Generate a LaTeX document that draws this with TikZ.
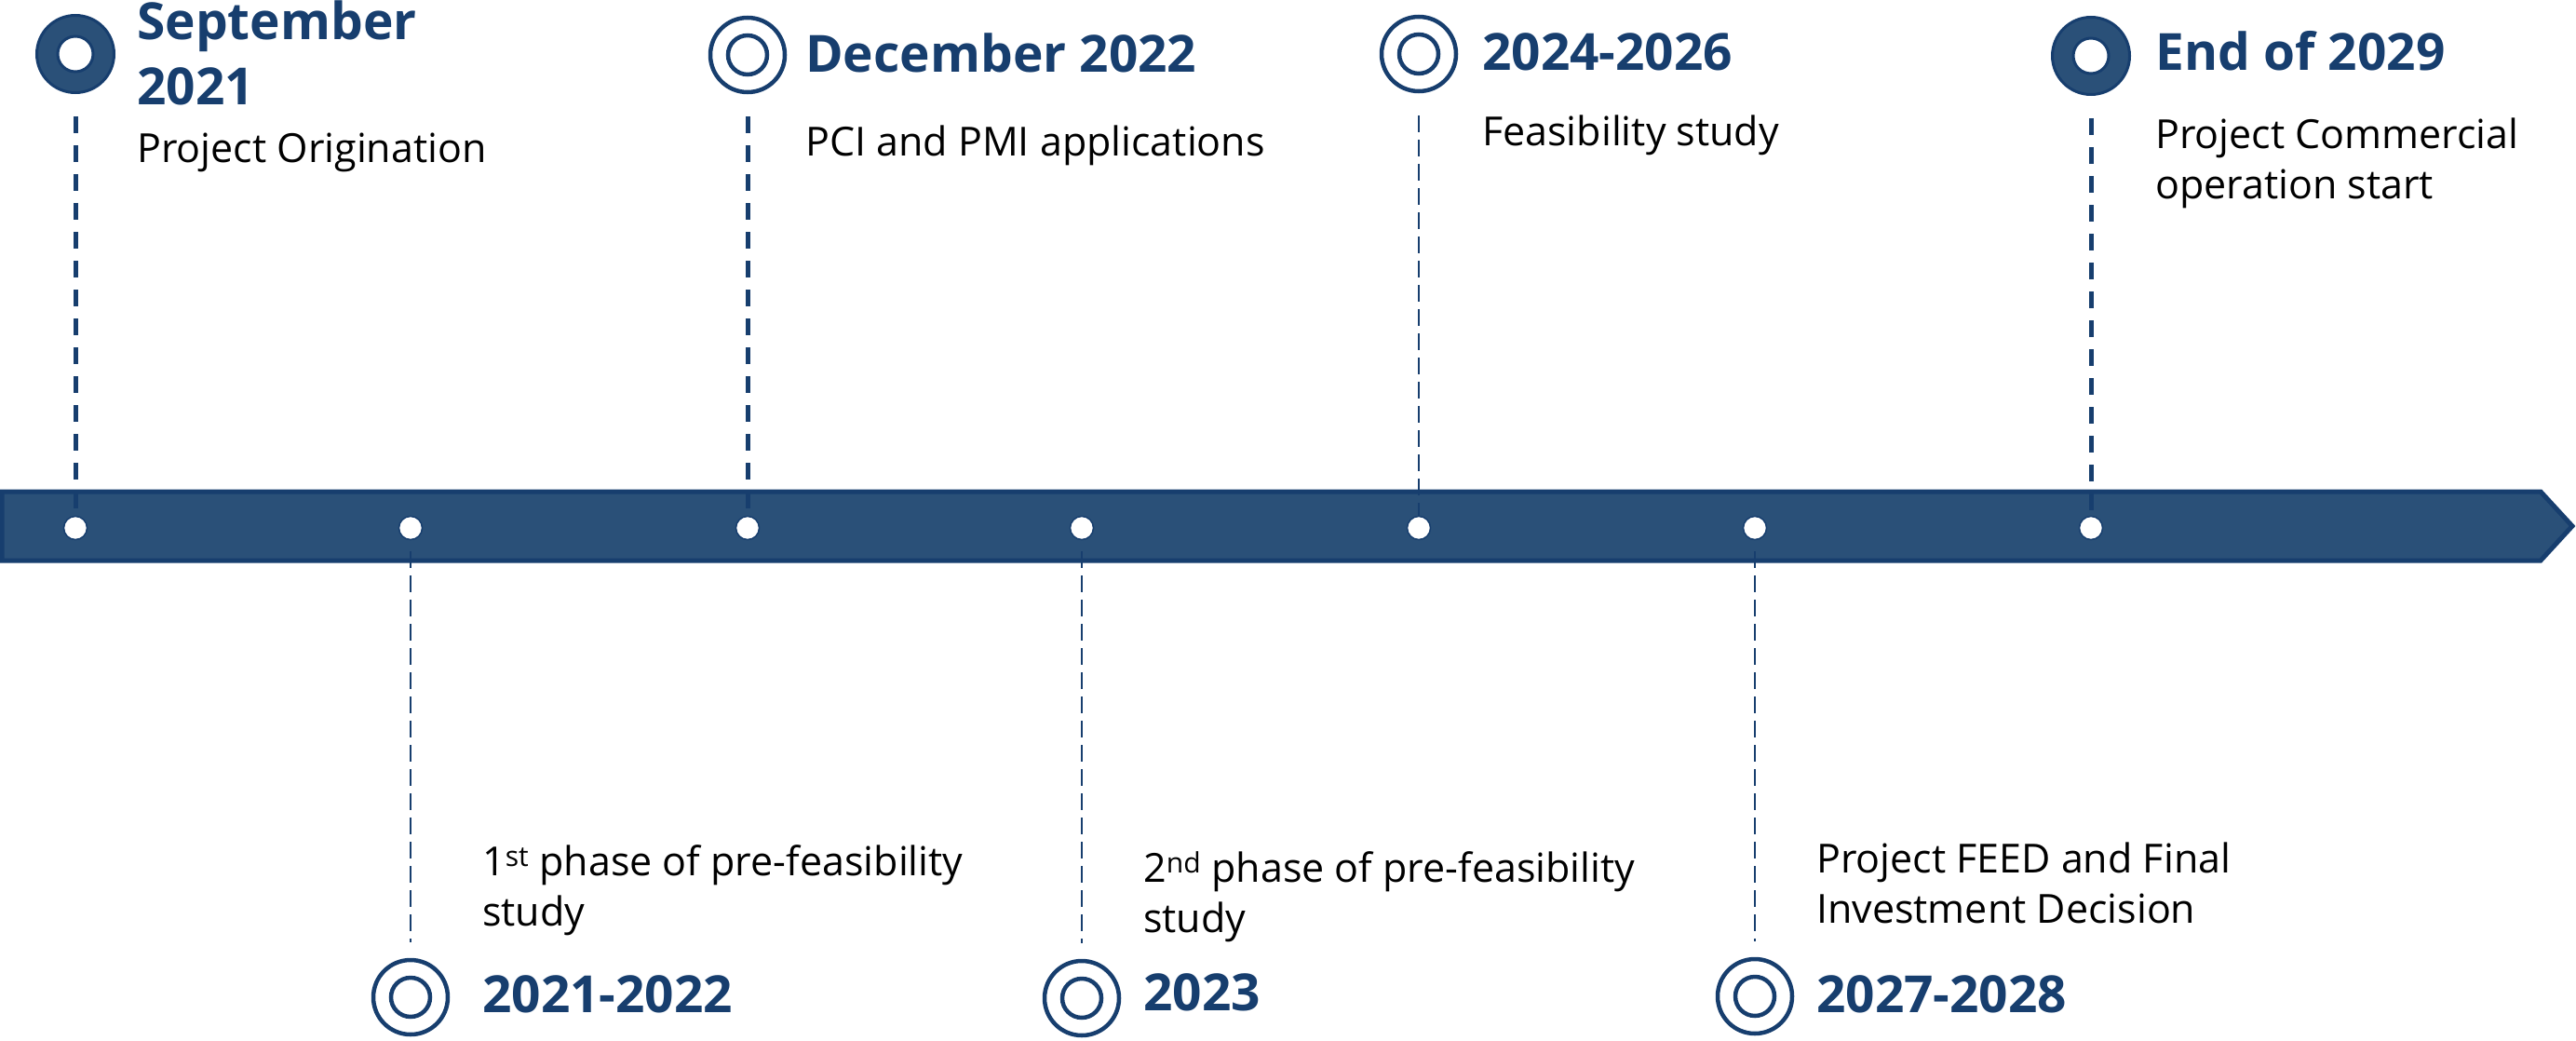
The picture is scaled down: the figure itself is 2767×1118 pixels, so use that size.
\documentclass[tikz,border=0pt]{standalone}
\usepackage{fontspec}
\setmainfont{Open Sans}
\definecolor{barfill}{RGB}{42,80,120}
\definecolor{navy}{RGB}{23,62,110}
\newcommand\tlfont{\bfseries\fontsize{55}{70}\selectfont}
\newcommand\bdfont{\fontsize{43}{54}\selectfont}
\newcommand\twolines[2]{\begin{tabular}[t]{@{}l@{}}#1\\#2\end{tabular}}
\begin{document}
\begin{tikzpicture}[x=1pt,y=-1pt,
  dotmark/.style={circle, fill=white, draw=navy, line width=1.5pt, minimum size=25pt, inner sep=0pt},
  solidring/.style={circle, fill=barfill, draw=navy, line width=3pt, minimum size=83pt, inner sep=0pt},
  openring/.style={circle, draw=navy, line width=4.5pt, minimum size=80pt, inner sep=0pt},
  titletext/.style={anchor=base west, inner sep=0pt, text=navy, font=\tlfont},
  bodytext/.style={anchor=base west, inner sep=0pt, text=black, font=\bdfont},
  thickdash/.style={draw=navy, line width=5pt, dash pattern=on 18pt off 13pt},
  thindash/.style={draw=navy, line width=2.5pt, dash pattern=on 18pt off 8pt},
]
\useasboundingbox (0,0) rectangle (2767,1118);

% timeline bar
\draw[fill=barfill, draw=navy, line width=5pt, line join=miter]
  (2,528) -- (2729,528) -- (2763,565) -- (2729,602) -- (2,602) -- cycle;

% dots on the bar
\foreach \i/\x in {1/81,2/441,3/803,4/1162,5/1524,6/1885,7/2246}
  \node[dotmark] (d\i) at (\x,567) {};

% markers
\node[solidring] (c1) at (81,58) {};
\fill[white, draw=navy, line width=3pt] (c1.center) circle (19);
\node[solidring] (c7) at (2246,60) {};
\fill[white, draw=navy, line width=3pt] (c7.center) circle (19);
\foreach \n/\x/\y in {c3/803/59, c5/1524/58, c2/441/1071, c4/1162/1072, c6/1885/1070}{
  \node[openring] (\n) at (\x,\y) {};
  \draw[navy, line width=4.5pt] (\n.center) circle (21);
}

% connectors
\draw[thickdash, shorten <=24pt] (c1.south) -- (d1.north);
\draw[thickdash, shorten <=24pt] (c3.south) -- (d3.north);
\draw[thindash, shorten <=24pt] (c5.south) -- (d5.north);
\draw[thickdash, shorten <=24pt] (c7.south) -- (d7.north);
\draw[thindash, shorten <=12pt, shorten >=17pt] (d2.south) -- (c2.north);
\draw[thindash, shorten <=12pt, shorten >=17pt] (d4.south) -- (c4.north);
\draw[thindash, shorten <=12pt, shorten >=17pt] (d6.south) -- (c6.north);

% top texts
\node[titletext] (t1) at (147,43) {\twolines{September}{2021}};
\node[bodytext] (b1) at (147,175) {Project Origination};
\node[titletext] (t3) at (865,78) {December 2022};
\node[bodytext] (b3) at (865,168) {PCI and PMI applications};
\node[titletext] (t5) at (1592,76) {2024-2026};
\node[bodytext] (b5) at (1592,157) {Feasibility study};
\node[titletext] (t7) at (2315,76) {End of 2029};
\node[bodytext] (b7) at (2315,160) {\twolines{Project Commercial}{operation start}};

% bottom texts
\node[bodytext] (b2) at (518,940) {\twolines{1\textsuperscript{st} phase of pre-feasibility}{study}};
\node[titletext] (t2) at (518,1087) {2021-2022};
\node[bodytext] (b4) at (1228,947) {\twolines{2\textsuperscript{nd} phase of pre-feasibility}{study}};
\node[titletext] (t4) at (1228,1085) {2023};
\node[bodytext] (b6) at (1951,937) {\twolines{Project FEED and Final}{Investment Decision}};
\node[titletext] (t6) at (1951,1087) {2027-2028};
\end{tikzpicture}
\end{document}
